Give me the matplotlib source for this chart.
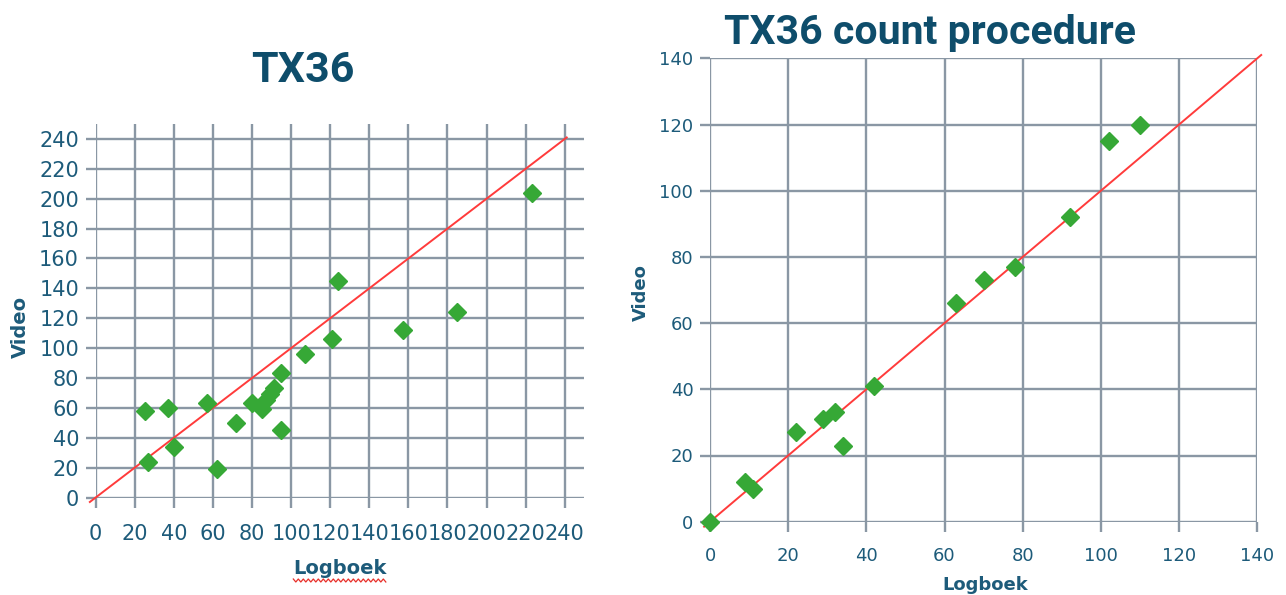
import numpy as np
import matplotlib
matplotlib.use("Agg")
import matplotlib.pyplot as plt
from matplotlib.lines import Line2D

# Left chart: TX36 (Logboek vs Video counts)
tx36_logboek = [25, 27, 37, 40, 57, 62, 72, 80, 85, 87, 89, 91, 95, 95, 107, 121, 124, 157, 185, 223]
tx36_video = [58, 24, 60, 34, 63, 19, 50, 63, 59, 65, 69, 73, 83, 45, 96, 106, 145, 112, 124, 204]

# Right chart: TX36 count procedure
proc_logboek = [0, 9, 11, 22, 29, 32, 34, 42, 63, 70, 78, 92, 102, 110]
proc_video = [0, 12, 10, 27, 31, 33, 23, 41, 66, 73, 77, 92, 115, 120]

left_ticks = list(range(0, 241, 20))
right_ticks = list(range(0, 141, 20))

TEXT = "#1d5b7a"
TITLE = "#0e4d6b"
GRID = "#8a97a4"
GREEN = "#36a836"
RED = "#ff3b3b"

plt.rcParams["font.family"] = ["DejaVu Sans"]

W, H = 1286, 595
fig = plt.figure(figsize=(W / 100, H / 100), dpi=100)


def px_axes(left, right, bottom, top):
    return fig.add_axes([left / W, 1 - bottom / H, (right - left) / W, (bottom - top) / H])


def style(ax, ticks, lim, fs, xpad):
    ax.set_xlim(0, lim)
    ax.set_ylim(0, lim)
    ax.set_xticks(ticks)
    ax.set_yticks(ticks)
    for s in ax.spines.values():
        s.set_visible(False)
    ax.grid(True, color=GRID, linewidth=1.7)
    ax.set_axisbelow(True)
    ax.tick_params(direction="out", length=7, width=1.7, color=GRID,
                   labelcolor=TEXT, labelsize=fs, pad=5)
    ax.tick_params(axis="x", pad=xpad)


# ---- left panel ----
axl = px_axes(95.7, 584.3, 497.5, 124)
style(axl, left_ticks, 250, 15, 12)
diag = np.array([-3, 241])
axl.plot(diag, diag, color=RED, lw=1.4, clip_on=False, zorder=2)
axl.plot(tx36_logboek, tx36_video, linestyle="none", marker="D", ms=9,
         color=GREEN, mec=GREEN, zorder=3, clip_on=False)
axl.set_xlabel("Logboek", fontsize=14, fontweight="bold", color=TEXT)
axl.xaxis.set_label_coords(0.5, (497.5 - 568) / 373.5)
axl.xaxis.label.set_va("center")
axl.set_ylabel("Video", fontsize=14, fontweight="bold", color=TEXT)
axl.yaxis.set_label_coords((20 - 95.7) / 488.6, (497.5 - 327) / 373.5)
axl.yaxis.label.set_va("center")
fig.text(303 / W, 1 - 70 / H, "TX36", fontsize=31, fontweight="bold",
         color=TITLE, ha="center", va="center",
         family=["Liberation Sans Narrow", "Roboto", "DejaVu Sans"])

# ---- right panel ----
axr = px_axes(710, 1257.3, 521.7, 58.3)
style(axr, right_ticks, 140, 13, 11)
diag = np.array([-1.5, 141])
axr.plot(diag, diag, color=RED, lw=1.4, clip_on=False, zorder=2)
axr.plot(proc_logboek, proc_video, linestyle="none", marker="D", ms=9,
         color=GREEN, mec=GREEN, zorder=3, clip_on=False)
axr.set_xlabel("Logboek", fontsize=13, fontweight="bold", color=TEXT)
axr.xaxis.set_label_coords((985 - 710) / 547.3, (521.7 - 585) / 463.4)
axr.xaxis.label.set_va("center")
axr.set_ylabel("Video", fontsize=13, fontweight="bold", color=TEXT)
axr.yaxis.set_label_coords((641 - 710) / 547.3, (521.7 - 293) / 463.4)
axr.yaxis.label.set_va("center")
fig.text(930 / W, 1 - 33 / H, "TX36 count procedure", fontsize=29.5, fontweight="bold",
         color=TITLE, ha="center", va="center",
         family=["Liberation Sans Narrow", "Roboto", "DejaVu Sans"])

# spell-check squiggle under the left x label
fig.canvas.draw()
bb = axl.xaxis.label.get_window_extent()
xs = np.arange(bb.x0, bb.x1, 2.5)
ys = bb.y0 - 3 + np.where(np.arange(len(xs)) % 2 == 0, 1.5, -1.5)
fig.add_artist(Line2D(xs, ys, transform=None, color="#e8302a", lw=0.9))

fig.savefig("out.png", dpi=100)
